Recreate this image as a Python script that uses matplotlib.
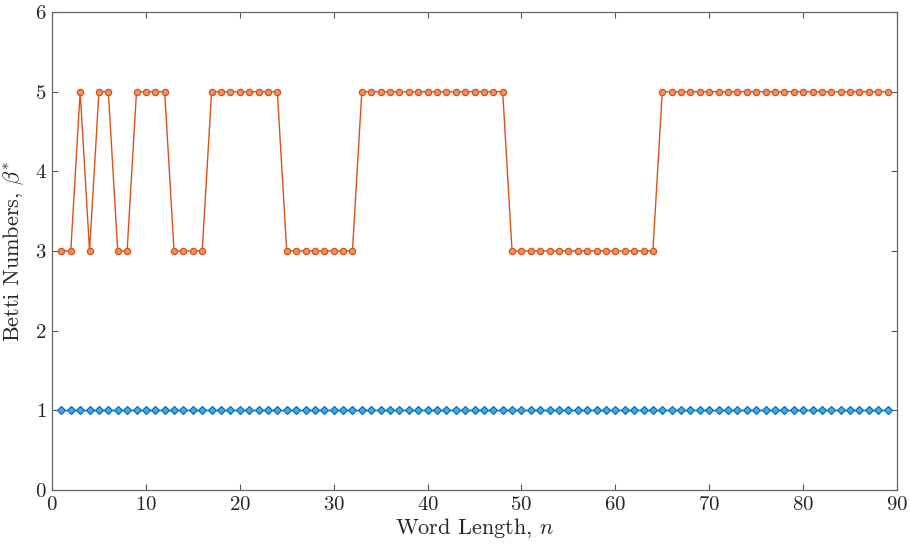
import matplotlib
matplotlib.use("Agg")
import matplotlib.pyplot as plt
import numpy as np

plt.rcParams['font.family'] = 'serif'
plt.rcParams['font.serif'] = ['cmr10']
plt.rcParams['mathtext.fontset'] = 'cm'
plt.rcParams['axes.formatter.use_mathtext'] = True

n = list(range(1, 90))
beta_orange = ([3, 3, 5, 3, 5, 5, 3, 3, 5, 5, 5, 5] + [3]*4 + [5]*8 + [3]*8
               + [5]*16 + [3]*16 + [5]*25)
beta_blue = [1]*89

fig = plt.figure(figsize=(9.1, 5.5), dpi=100)
ax = fig.add_axes([52/910, 60/550, 845/910, 478/550])

ax.plot(n, beta_blue, color='#0072BD', lw=1.0, marker='D', markersize=4,
        markerfacecolor='#4DA6E0', markeredgecolor='#0072BD', markeredgewidth=0.9)
ax.plot(n, beta_orange, color='#D95319', lw=1.0, marker='o', markersize=4.5,
        markerfacecolor='#EE9065', markeredgecolor='#D95319', markeredgewidth=0.9)

ax.set_xlim(0, 90)
ax.set_ylim(0, 6)
ax.set_xticks(range(0, 91, 10))
ax.set_yticks(range(0, 7))
ax.tick_params(direction='in', top=True, right=True, labelsize=15, length=4,
               color='#555555', labelcolor='#262626', width=0.8, pad=4)
for s in ax.spines.values():
    s.set_color('#666666')
    s.set_linewidth(0.9)
ax.set_xlabel(r'Word Length, $n$', fontsize=16, labelpad=2, color='#262626')
ax.set_ylabel(r'Betti Numbers, $\beta^{*}$', fontsize=16, labelpad=6, color='#262626')

fig.savefig('out.png', dpi=100)
